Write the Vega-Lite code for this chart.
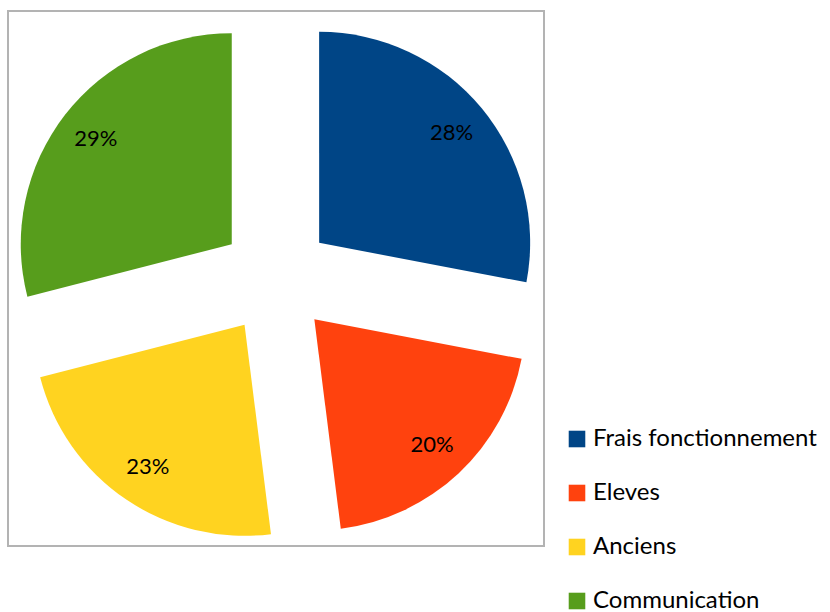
{
  "$schema": "https://vega.github.io/schema/vega-lite/v6.json",
  "width": 536,
  "height": 535,
  "padding": {"left": 8, "top": 11, "right": 0, "bottom": 0},
  "autosize": {"type": "pad"},
  "background": "white",
  "view": {"stroke": "#b3b3b3", "strokeWidth": 2},
  "config": {"view": {"stroke": "#b3b3b3", "strokeWidth": 2}},
  "data": {"values": [
    {"cat": "Frais fonctionnement", "pct": 28, "label": "28%", "ord": 1},
    {"cat": "Eleves", "pct": 20, "label": "20%", "ord": 2},
    {"cat": "Anciens", "pct": 23, "label": "23%", "ord": 3},
    {"cat": "Communication", "pct": 29, "label": "29%", "ord": 4}
  ]},
  "encoding": {
    "theta": {"field": "pct", "type": "quantitative", "stack": true, "scale": {"domain": [0, 100]}},
    "order": {"field": "ord", "type": "quantitative"},
    "color": {
      "field": "cat", "type": "nominal",
      "scale": {"domain": ["Frais fonctionnement", "Eleves", "Anciens", "Communication"], "range": ["#004586", "#ff420e", "#ffd320", "#579d1c"]},
      "legend": {
        "title": null, "orient": "none", "legendX": 557, "legendY": 416,
        "symbolType": "square", "symbolSize": 275, "symbolStrokeWidth": 0,
        "labelFont": "Lato", "labelFontSize": 24, "labelColor": "#000000", "labelLimit": 400,
        "rowPadding": 30, "labelOffset": 4
      }
    }
  },
  "layer": [
    {
      "mark": {"type": "arc", "outerRadius": 211,
        "xOffset": {"expr": "56*sin(scale('theta', (datum.pct_start + datum.pct_end) / 2))"},
        "yOffset": {"expr": "-56*cos(scale('theta', (datum.pct_start + datum.pct_end) / 2))"}
      }
    },
    {
      "mark": {"type": "text", "radius": 228, "font": "Lato", "fontSize": 22, "color": "#000000"},
      "encoding": {"text": {"field": "label", "type": "nominal"}, "color": {"value": "#000000"}}
    }
  ]
}
